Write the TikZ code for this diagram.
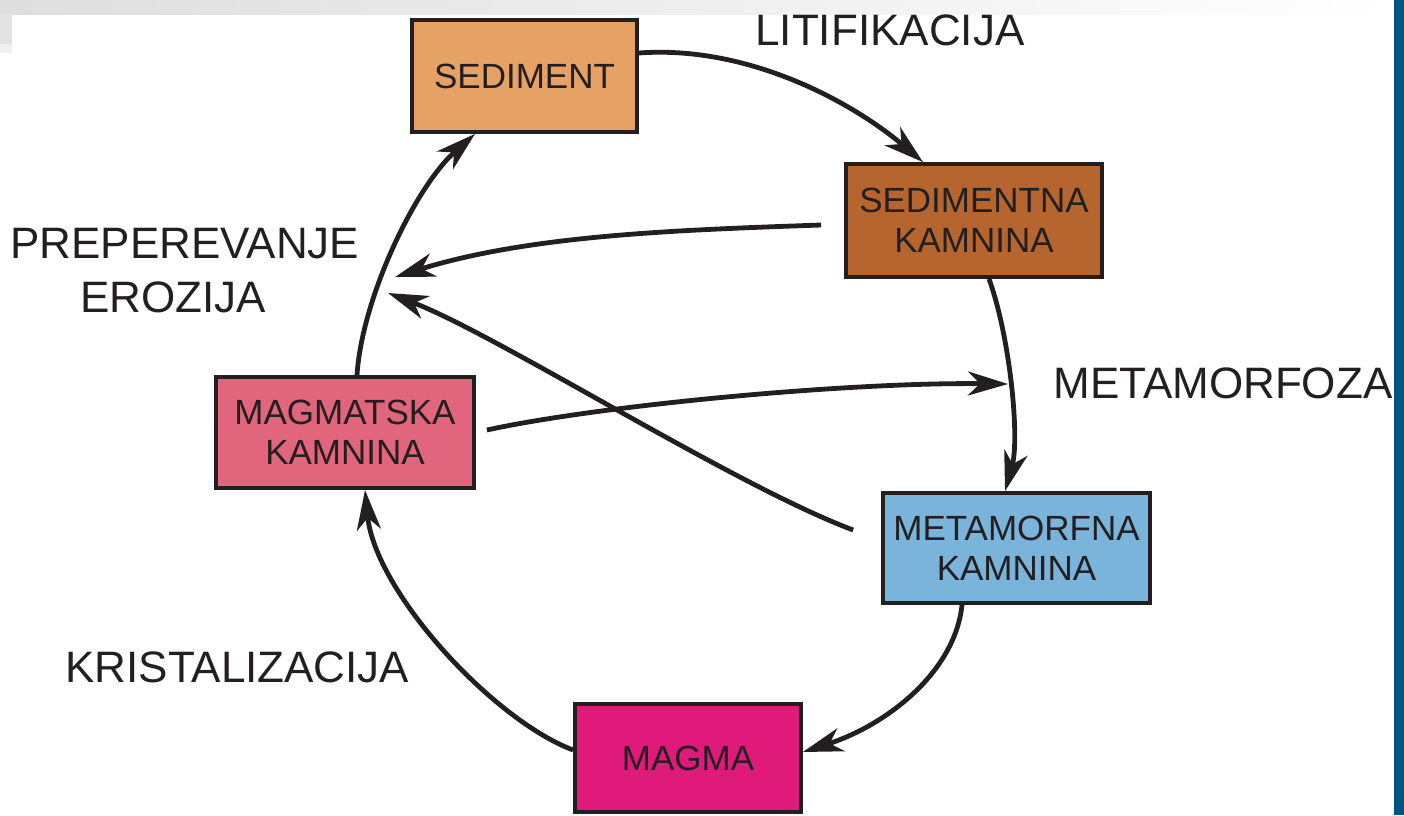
\documentclass[tikz,border=0pt]{standalone}
\usepackage{fontspec}
\setmainfont{Liberation Sans}
\usetikzlibrary{arrows.meta,calc}
\definecolor{ink}{HTML}{231F20}
\definecolor{csed}{HTML}{E6A264}
\definecolor{csk}{HTML}{B5652D}
\definecolor{cmk}{HTML}{7BB4DB}
\definecolor{cmag}{HTML}{E0657D}
\definecolor{cmagma}{HTML}{E01A7A}
\definecolor{cbar}{HTML}{00567F}
\tikzset{
  rockbox/.style={draw=ink, line width=1.9pt, inner sep=0pt, align=center,
    text=ink, font=\fontsize{17.5}{20}\selectfont},
  proclabel/.style={text=ink, font=\fontsize{22}{27}\selectfont, inner sep=0pt},
  cyc/.style={draw=ink, line width=2.4pt, -{Stealth[length=20pt,width=12pt,inset=6pt]}}
}
\begin{document}
\begin{tikzpicture}[x=0.5pt,y=-0.5pt]
\useasboundingbox (0,0) rectangle (1404,815);
% background decorations
\shade[left color=black!13, right color=white] (0,0) rectangle (1394,14);
\fill[black!11] (0,14) rectangle (12,44);
\fill[black!6] (0,44) rectangle (12,53);
\fill[cbar] (1394,0) rectangle (1404,815);
% boxes
\node[rockbox, fill=csed, minimum width=112.5pt, minimum height=56pt] (sed) at (524.5,76) {SEDIMENT};
\node[rockbox, fill=csk, minimum width=128pt, minimum height=56.5pt] (sk) at (974,220.5) {SEDIMENTNA\\KAMNINA};
\node[rockbox, fill=cmk, minimum width=133.5pt, minimum height=55pt] (mk) at (1016.5,548) {METAMORFNA\\KAMNINA};
\node[rockbox, fill=cmag, minimum width=129pt, minimum height=55.5pt] (mag) at (345,432.5) {MAGMATSKA\\KAMNINA};
\node[rockbox, fill=cmagma, minimum width=113pt, minimum height=54pt] (magma) at (688,758) {MAGMA};
% labels
\node[proclabel, anchor=base west] (lit) at (755,45) {LITIFIKACIJA};
\node[proclabel, anchor=base west] (prep) at (10,258) {PREPEREVANJE};
\node[proclabel, anchor=base west] (ero) at (80,312) {EROZIJA};
\node[proclabel, anchor=base west] (meta) at (1053,398) {METAMORFOZA};
\node[proclabel, anchor=base west] (kris) at (65,682) {KRISTALIZACIJA};
% free ends
\coordinate (e1) at (395,277);
\coordinate (e2) at (388,293);
\coordinate (m) at (1008,384);
% cycle arrows
\draw[cyc] ($(sed.east)+(0,-23)$) .. controls +(108,-8) and +(-72,-61) .. ($(sk.north)+(-51,0)$);
\draw[cyc] ($(sk.south)+(15,0)$) .. controls +(21,58) and +(15,-53) .. ($(mk.north)+(-11.5,0)$);
\draw[cyc] ($(mk.south)+(-54.5,0)$) .. controls +(-7,67) and +(84,-27) .. ($(magma.east)+(0,-6)$);
\draw[cyc] ($(magma.west)+(0,-8)$) .. controls +(-80,-30) and +(10,102) .. ($(mag.south)+(20,0)$);
\draw[cyc] ($(mag.north)+(12,0)$) .. controls +(5,-77) and +(-60,53) .. ($(sed.south)+(-49.5,0)$);
\draw[cyc] ($(sk.west)+(-23,4.5)$) .. controls +(-143,5) and +(135,-42) .. (e1);
\draw[cyc] ($(mk.west)+(-28,-18)$) .. controls +(-120,-45) and +(110,42) .. (e2);
\draw[cyc] ($(mag.east)+(11,-2.5)$) .. controls +(115,-25) and +(-158,-2) .. (m);
\end{tikzpicture}
\end{document}
